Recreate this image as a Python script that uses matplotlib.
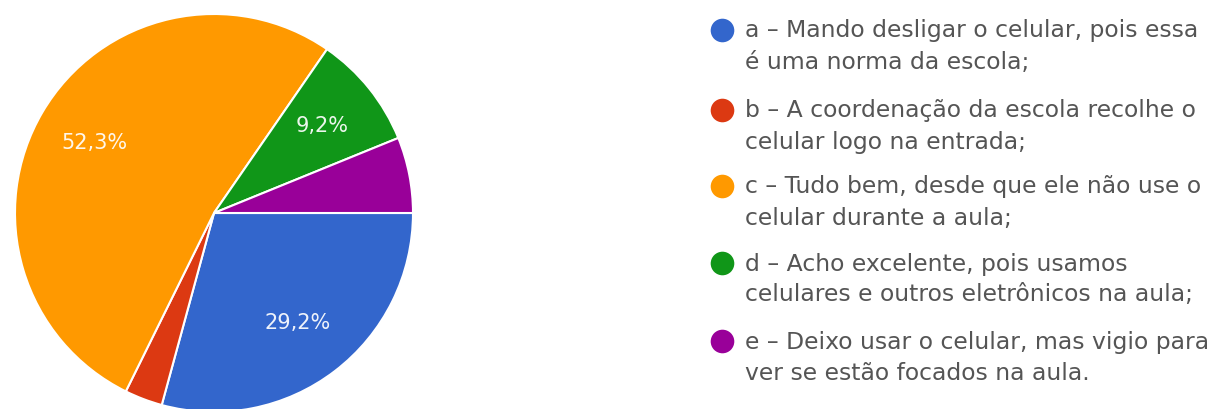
import matplotlib
matplotlib.use("Agg")
import matplotlib.pyplot as plt

# Survey answers (counts out of 65 responses)
labels = [
    "a – Mando desligar o celular, pois essa\né uma norma da escola;",
    "b – A coordenação da escola recolhe o\ncelular logo na entrada;",
    "c – Tudo bem, desde que ele não use o\ncelular durante a aula;",
    "d – Acho excelente, pois usamos\ncelulares e outros eletrônicos na aula;",
    "e – Deixo usar o celular, mas vigio para\nver se estão focados na aula.",
]
counts = [19, 2, 34, 6, 4]
colors = ["#3366CC", "#DC3912", "#FF9900", "#109618", "#990099"]

W, H = 1221, 409
fig = plt.figure(figsize=(W / 100, H / 100), dpi=100)
fig.patch.set_facecolor("white")

# Pie axes: centre (214, 213) px, radius 199 px
cx, cy, r = 214, 213, 199
ax = fig.add_axes([(cx - r) / W, (H - cy - r) / H, 2 * r / W, 2 * r / H])


def pct_label(p):
    if p < 7:
        return ""
    return f"{p:.1f}%".replace(".", ",")


wedges, texts, autotexts = ax.pie(
    counts,
    colors=colors,
    startangle=0,
    counterclock=False,
    radius=1,
    autopct=pct_label,
    pctdistance=0.695,
    wedgeprops=dict(edgecolor="white", linewidth=1.5),
    textprops=dict(color="white", fontsize=15, family="DejaVu Sans"),
)
for t in autotexts:
    t.set_alpha(0.92)
ax.set_xlim(-1, 1)
ax.set_ylim(-1, 1)
ax.set_aspect("equal")
ax.axis("off")

# Legend drawn in pixel coordinates
lg = fig.add_axes([0, 0, 1, 1], facecolor="none")
lg.set_xlim(0, W)
lg.set_ylim(H, 0)
lg.axis("off")

dot_x, text_x = 722, 745
row_y = [30, 110, 186, 263, 341]
line_gap = 31
for lab, col, y in zip(labels, colors, row_y):
    lg.plot(dot_x, y, "o", color=col, markersize=17, markeredgewidth=0)
    first, second = lab.split("\n")
    lg.text(text_x, y + 1, first, va="center", ha="left", fontsize=16.9,
            color="#555555", family="DejaVu Sans")
    lg.text(text_x, y + 1 + line_gap, second, va="center", ha="left",
            fontsize=16.9, color="#555555", family="DejaVu Sans")

fig.savefig("out.png", dpi=100)
